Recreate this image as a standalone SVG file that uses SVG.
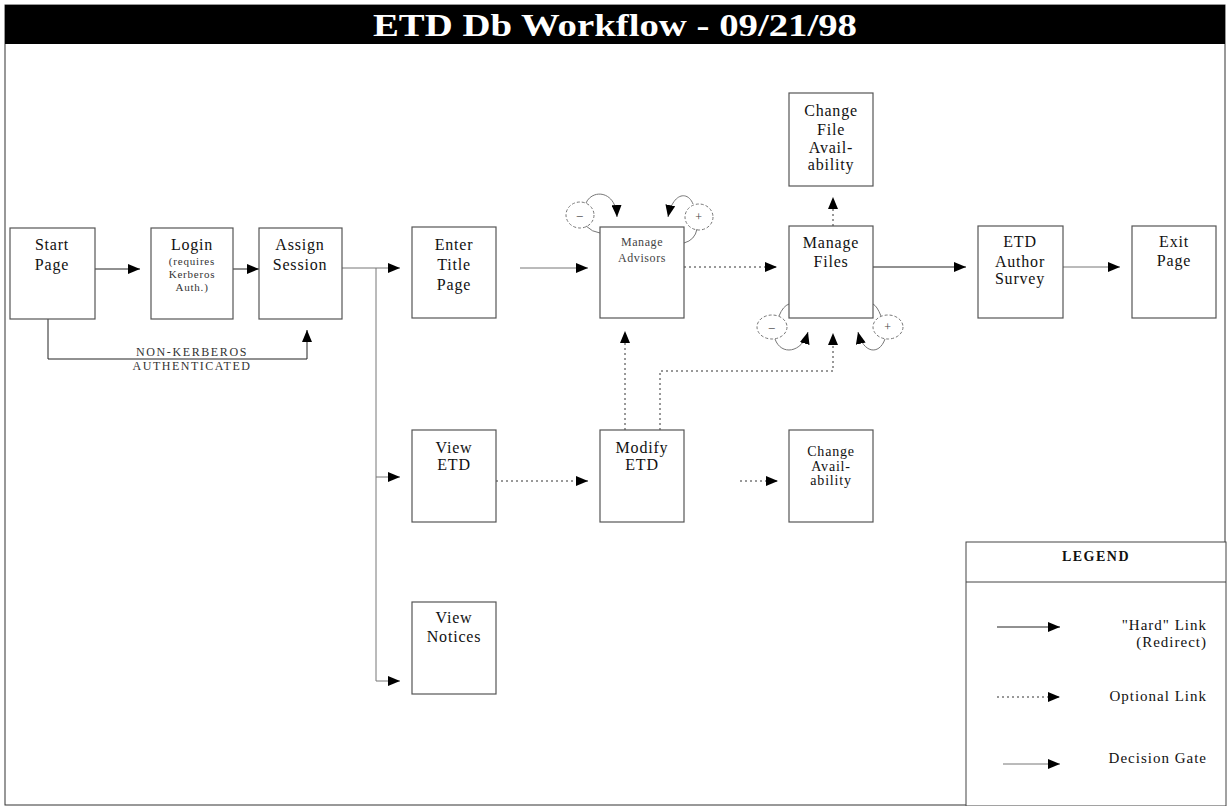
<svg xmlns="http://www.w3.org/2000/svg" width="1230" height="806" viewBox="0 0 1230 806">
<style>
.box{fill:#fff;stroke:#555;stroke-width:1.2}
.t{font-family:"Liberation Serif","Times New Roman",serif;font-size:16px;fill:#111;text-anchor:middle;letter-spacing:0.8px}
.s{font-family:"Liberation Serif","Times New Roman",serif;font-size:11px;fill:#333;text-anchor:middle;letter-spacing:0.8px}
.m{font-family:"Liberation Serif","Times New Roman",serif;font-size:12px;fill:#444;text-anchor:middle;letter-spacing:0.6px}
.lg{font-family:"Liberation Serif","Times New Roman",serif;font-size:15px;fill:#111;text-anchor:end;letter-spacing:1px}
.hard{fill:none;stroke:#222;stroke-width:1}
.gate{fill:none;stroke:#777;stroke-width:1}
.opt{fill:none;stroke:#333;stroke-width:1;stroke-dasharray:2,3}
.circ{fill:none;stroke:#777;stroke-width:1;stroke-dasharray:3,2}
</style>
<defs>
<marker id="ah" markerUnits="userSpaceOnUse" markerWidth="12" markerHeight="10" refX="12" refY="5" orient="auto">
<path d="M0,0 L12,5 L0,10 z" fill="#000"/>
</marker>
</defs>
<rect x="0" y="0" width="1230" height="806" fill="#fff"/>
<rect x="5" y="5" width="1220" height="800" fill="none" stroke="#333" stroke-width="1"/>
<g id="title">
<rect x="5" y="5" width="1220" height="39" fill="#000"/>
<text x="615" y="36" textLength="484" lengthAdjust="spacingAndGlyphs" style="font-family:'Liberation Serif','Times New Roman',serif;font-size:32px;font-weight:bold;fill:#fff;text-anchor:middle">ETD Db Workflow - 09/21/98</text>
</g>
<g id="connectors">
<line class="hard" x1="95" y1="269" x2="140" y2="269" marker-end="url(#ah)"/>
<line class="hard" x1="233" y1="269" x2="259" y2="269" marker-end="url(#ah)"/>
<line class="gate" x1="342" y1="268" x2="400" y2="268" marker-end="url(#ah)"/>
<polyline class="gate" points="376,268 376,681 400,681" marker-end="url(#ah)"/>
<line class="gate" x1="376" y1="477" x2="400" y2="477" marker-end="url(#ah)"/>
<polyline class="hard" points="48,319 48,359 307,359 307,330" marker-end="url(#ah)"/>
<line class="gate" x1="520" y1="268" x2="588" y2="268" marker-end="url(#ah)"/>
<line class="opt" x1="684" y1="267" x2="777" y2="267" marker-end="url(#ah)"/>
<line class="hard" x1="873" y1="267" x2="966" y2="267" marker-end="url(#ah)"/>
<line class="gate" x1="1063" y1="267" x2="1120" y2="267" marker-end="url(#ah)"/>
<line class="opt" x1="833" y1="226" x2="833" y2="197" marker-end="url(#ah)"/>
<line class="opt" x1="496" y1="481" x2="588" y2="481" marker-end="url(#ah)"/>
<line class="opt" x1="740" y1="481" x2="778" y2="481" marker-end="url(#ah)"/>
<line class="opt" x1="625" y1="430" x2="625" y2="331" marker-end="url(#ah)"/>
<polyline class="opt" points="660,430 660,371 833,371 833,333" marker-end="url(#ah)"/>
<path class="gate" d="M586,203 C592,189 616,190 617,217" marker-end="url(#ah)"/>
<path class="gate" d="M693,204 C688,191 673,192 668,217" marker-end="url(#ah)"/>
<path class="gate" d="M586,226 Q592,232 600,233"/>
<path class="gate" d="M697,229 Q695,240 684,243"/>
<path class="gate" d="M775,339 C781,356 802,353 808,332" marker-end="url(#ah)"/>
<path class="gate" d="M885,339 C879,356 863,353 858,332" marker-end="url(#ah)"/>
<path class="gate" d="M779,316 Q783,306 789,304"/>
<path class="gate" d="M881,316 Q877,306 873,304"/>
</g>
<g id="gates">
<ellipse class="circ" cx="580" cy="215" rx="14" ry="13"/>
<text class="m" x="580" y="219">–</text>
<ellipse class="circ" cx="699" cy="217" rx="14" ry="13"/>
<text class="m" x="699" y="221">+</text>
<ellipse class="circ" cx="772" cy="327" rx="15" ry="12"/>
<text class="m" x="772" y="331">–</text>
<ellipse class="circ" cx="888" cy="327" rx="15" ry="12"/>
<text class="m" x="888" y="331">+</text>
</g>
<g id="start-page"><rect class="box" x="10" y="228" width="85" height="91"/><text class="t" x="52" y="250">Start</text><text class="t" x="52" y="270">Page</text></g>
<g id="login"><rect class="box" x="151" y="228" width="82" height="91"/><text class="t" x="192" y="250">Login</text><text class="s" x="192" y="265">(requires</text><text class="s" x="192" y="278">Kerberos</text><text class="s" x="192" y="291">Auth.)</text></g>
<g id="assign-session"><rect class="box" x="259" y="228" width="83" height="91"/><text class="t" x="300" y="250">Assign</text><text class="t" x="300" y="270">Session</text></g>
<g id="enter-title-page"><rect class="box" x="412" y="227" width="84" height="91"/><text class="t" x="454" y="250">Enter</text><text class="t" x="454" y="270">Title</text><text class="t" x="454" y="290">Page</text></g>
<g id="manage-advisors"><rect class="box" x="600" y="227" width="84" height="91"/><text class="m" x="642" y="246">Manage</text><text class="m" x="642" y="262">Advisors</text></g>
<g id="manage-files"><rect class="box" x="789" y="226" width="84" height="92"/><text class="t" x="831" y="248">Manage</text><text class="t" x="831" y="267">Files</text></g>
<g id="change-file-availability"><rect class="box" x="789" y="93" width="84" height="93"/><text class="t" x="831" y="116">Change</text><text class="t" x="831" y="135">File</text><text class="t" x="831" y="153">Avail-</text><text class="t" x="831" y="170">ability</text></g>
<g id="etd-author-survey"><rect class="box" x="978" y="226" width="85" height="92"/><text class="t" x="1020" y="247">ETD</text><text class="t" x="1020" y="267">Author</text><text class="t" x="1020" y="284">Survey</text></g>
<g id="exit-page"><rect class="box" x="1132" y="226" width="84" height="92"/><text class="t" x="1174" y="247">Exit</text><text class="t" x="1174" y="266">Page</text></g>
<g id="view-etd"><rect class="box" x="412" y="430" width="84" height="92"/><text class="t" x="454" y="453">View</text><text class="t" x="454" y="470">ETD</text></g>
<g id="modify-etd"><rect class="box" x="600" y="430" width="84" height="92"/><text class="t" x="642" y="453">Modify</text><text class="t" x="642" y="470">ETD</text></g>
<g id="change-availability"><rect class="box" x="789" y="430" width="84" height="92"/><text class="t" x="831" y="456" style="font-size:14px">Change</text><text class="t" x="831" y="471" style="font-size:14px">Avail-</text><text class="t" x="831" y="485" style="font-size:14px">ability</text></g>
<g id="view-notices"><rect class="box" x="412" y="602" width="84" height="92"/><text class="t" x="454" y="623">View</text><text class="t" x="454" y="642">Notices</text></g>
<g id="non-kerberos-label"><text class="s" x="192" y="356" style="font-size:12px;letter-spacing:1.6px">NON-KERBEROS</text><text class="s" x="192" y="370" style="font-size:12px;letter-spacing:1.5px">AUTHENTICATED</text></g>
<g id="legend">
<rect x="966" y="542" width="260" height="264" fill="#fff" stroke="#444" stroke-width="1"/>
<line x1="966" y1="582" x2="1226" y2="582" stroke="#444" stroke-width="1"/>
<text x="1096" y="561" style="font-family:'Liberation Serif','Times New Roman',serif;font-size:14px;font-weight:bold;fill:#111;text-anchor:middle;letter-spacing:1.5px">LEGEND</text>
<line class="hard" x1="997" y1="627" x2="1060" y2="627" marker-end="url(#ah)"/>
<text class="lg" x="1207" y="630">"Hard" Link</text>
<text class="lg" x="1207" y="647">(Redirect)</text>
<line class="opt" x1="997" y1="697" x2="1060" y2="697" marker-end="url(#ah)"/>
<text class="lg" x="1207" y="701">Optional Link</text>
<line class="gate" x1="1003" y1="764" x2="1060" y2="764" marker-end="url(#ah)"/>
<text class="lg" x="1207" y="763">Decision Gate</text>
</g>
</svg>
